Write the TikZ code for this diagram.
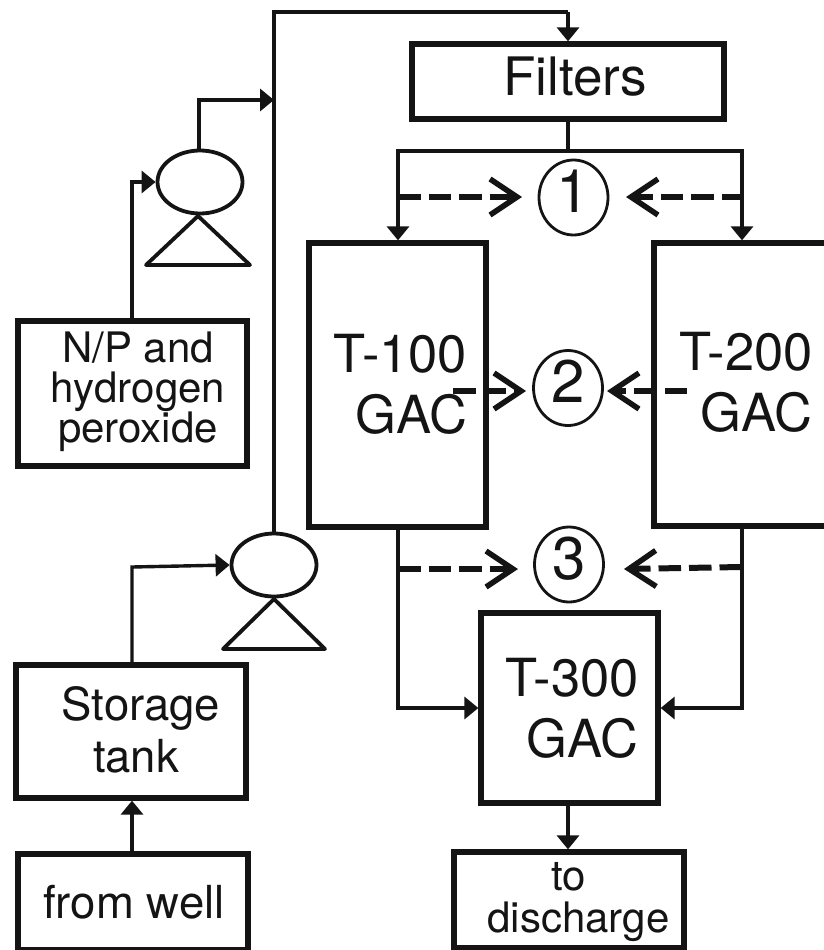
\documentclass[tikz,border=0pt]{standalone}
\usepackage{fontspec}
\setmainfont{TeX Gyre Heros}
\usetikzlibrary{arrows.meta,shapes.geometric}
\definecolor{ink}{HTML}{141414}
\newcommand{\fs}[2]{\fontsize{#1}{#2}\selectfont}
\newcommand{\dg}[1]{\raisebox{-14.5pt}[0pt][0pt]{#1}}
\tikzset{
  x=1pt,y=-1pt,
  every node/.style={text=ink},
  boxn/.style={draw=ink,line width=5.3pt,inner sep=0pt,fill=none,rectangle},
  pipe/.style={draw=ink,line width=3.4pt,line join=miter},
  flow/.style={pipe,-{Triangle[length=14pt,width=22pt]}},
  dashflow/.style={draw=ink,line width=6pt,dash pattern=on 22.5pt off 8pt,-{Straight Barb[length=27pt,width=36pt,line width=5.5pt]}},
  pumpc/.style={draw=ink,line width=3.8pt,ellipse,inner sep=0pt,minimum width=85pt,minimum height=63pt},
  pumpt/.style={draw=ink,line width=3.8pt,line join=round},
  numc/.style={draw=ink,line width=2.8pt,ellipse,inner sep=0pt,minimum width=69pt,minimum height=75pt,font=\fs{60}{60}},
  bigtext/.style={inner sep=0pt,align=right,font=\fs{52.5}{61}},
  smalltext/.style={inner sep=0pt,align=center,font=\fs{42}{40}},
  midtext/.style={inner sep=0pt,align=center,font=\fs{45.5}{52}},
}
\begin{document}
\begin{tikzpicture}
\useasboundingbox (0,0) rectangle (824,950);
\fill[white] (0,0) rectangle (824,950);
% boxes
\node[boxn,minimum width=312pt,minimum height=75pt] (filters) at (568,81.5) {};
\node[boxn,minimum width=177pt,minimum height=284pt] (t100) at (397.5,385) {};
\node[boxn,minimum width=176pt,minimum height=283pt] (t200) at (742,384.5) {};
\node[boxn,minimum width=177pt,minimum height=190pt] (t300) at (569.5,708) {};
\node[boxn,minimum width=229pt,minimum height=145pt] (np) at (132.5,393.5) {};
\node[boxn,minimum width=230pt,minimum height=133pt] (store) at (131,731.5) {};
\node[boxn,minimum width=230pt,minimum height=96pt] (well) at (133,902) {};
\node[boxn,minimum width=230pt,minimum height=96pt] (disch) at (569,900) {};
% texts
\node[inner sep=0pt,font=\fs{53}{56}] (tf) at (575,77) {Filters};
\node[bigtext] (t1) at (400.5,384) {T-100\\GAC};
\node[bigtext] (t2) at (746,382) {T-200\\GAC};
\node[bigtext] (t3) at (572,708) {T-300\\GAC};
\node[smalltext] (tn) at (138,392) {N/P and\\hydrogen\\peroxide};
\node[midtext] (ts) at (141,730) {Storage\\tank\hspace*{10pt}};
\node[inner sep=0pt,font=\fs{45.5}{52}] (tw) at (134,902) {from well};
\node[inner sep=0pt,align=center,font=\fs{42}{42}] (td) at (578.5,902) {to\hspace*{20pt}\\discharge};
% pumps
\node[pumpc] (p1) at (200,182) {};
\node[pumpc] (p2) at (274,565) {};
\coordinate (p1a) at (198,216);
\coordinate (p1l) at (146,265);
\coordinate (p1r) at (250,265);
\coordinate (p2a) at (274,599);
\coordinate (p2l) at (223,649);
\coordinate (p2r) at (325,649);
\draw[pumpt] (p1a) -- (p1l) -- (p1r) -- cycle;
\draw[pumpt] (p2a) -- (p2l) -- (p2r) -- cycle;
% numbered circles
\node[numc] (c1) at (573.5,197.5) {\dg{1}};
\node[numc] (c2) at (568,388) {\dg{2}};
\node[numc] (c3) at (569,564.5) {\dg{3}};
% main line
\coordinate (top) at (274,12);
\coordinate (topr) at (568,12);
\coordinate (join) at (274,100);
\coordinate (up1) at (199,100);
\coordinate (np1) at (132,182);
\coordinate (st1) at (132,567);
\draw[pipe] (p2.north) -- (top) -- (topr);
\draw[flow] (topr) -- (filters.north -| topr);
\draw[flow] (p1.north -| up1) -- (up1) -- (join);
\draw[flow] (np.north -| np1) -- (np1) -- (p1.west);
\draw[flow] (store.north -| st1) -- (st1) -- (p2.west);
\draw[flow] (well.north -| st1) -- (store.south -| st1);
% distribution
\coordinate (split) at (568,151);
\coordinate (sl) at (398,151);
\coordinate (sr) at (742,151);
\draw[pipe] (filters.south -| split) -- (split);
\draw[flow] (split) -- (sl) -- (t100.north -| sl);
\draw[flow] (split) -- (sr) -- (t200.north -| sr);
% dashed
\coordinate (d1l) at (398,197);
\coordinate (d1r) at (744,197);
\coordinate (d2l) at (453,391);
\coordinate (d2r) at (687,391);
\coordinate (d3l) at (398,569);
\coordinate (d3r) at (742,567);
\coordinate (e1l) at (522,197);
\coordinate (e1r) at (626,197);
\coordinate (e2l) at (526,391);
\coordinate (e2r) at (607,391);
\coordinate (e3l) at (518,569);
\coordinate (e3r) at (624,569);
\draw[dashflow] (d1l) -- (e1l);
\draw[dashflow] (d1r) -- (e1r);
\draw[dashflow] (d2l) -- (e2l);
\draw[dashflow] (d2r) -- (e2r);
\draw[dashflow] (d3l) -- (e3l);
\draw[dashflow] (d3r) -- (e3r);
% outflow
\coordinate (ol) at (398,708);
\coordinate (or) at (742,708);
\draw[flow] (t100.south -| ol) -- (ol) -- (t300.west);
\draw[flow] (t200.south -| or) -- (or) -- (t300.east);
\draw[flow] (t300.south -| split) -- (disch.north -| split);
\end{tikzpicture}
\end{document}
